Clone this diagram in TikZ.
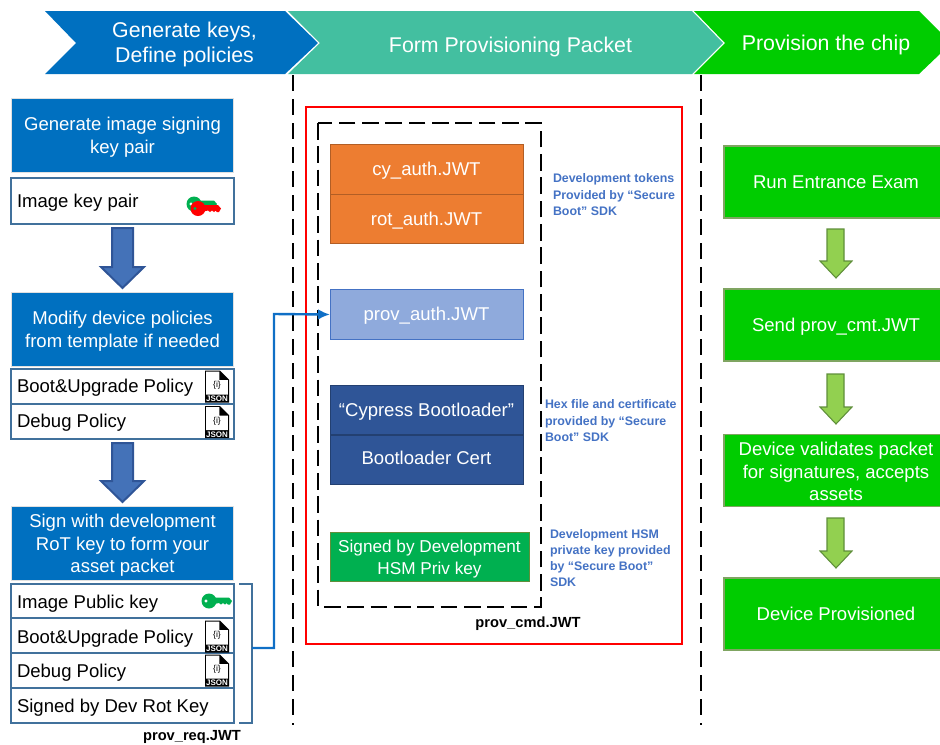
\documentclass[tikz,border=0pt]{standalone}
\usepackage{fontspec}
\usetikzlibrary{arrows.meta}
\setmainfont{Liberation Sans}
\definecolor{cblue}{HTML}{0070C0}
\definecolor{cteal}{HTML}{43BFA0}
\definecolor{cgreen}{HTML}{00CC00}
\definecolor{corange}{HTML}{ED7D31}
\definecolor{cpale}{HTML}{8FAADC}
\definecolor{cnavy}{HTML}{2F5597}
\definecolor{chsm}{HTML}{00B050}
\definecolor{cframe}{HTML}{41719C}
\definecolor{cnote}{HTML}{4472C4}
\definecolor{clink}{HTML}{0F6FC6}
\definecolor{clime}{HTML}{92D050}
\definecolor{climeb}{HTML}{5F8F3A}
\definecolor{carrow}{HTML}{4472B8}
\definecolor{carrowb}{HTML}{2F5597}
\definecolor{ckey}{HTML}{00B050}
\tikzset{
  x=0.75pt,y=-0.75pt,
  every node/.style={inner sep=0pt,outer sep=0pt},
  box/.style={align=center,text=white,font=\fontsize{13.9pt}{17pt}\selectfont},
  oneline/.style={text height=12pt,text depth=3pt},
  flowbox/.style={fill=cblue,draw=black!12,line width=0.6pt,minimum width=167pt,minimum height=56pt},
  itembox/.style={draw=cframe,line width=1.5pt,fill=white},
  itemtext/.style={anchor=west,text=black,font=\fontsize{13.9pt}{17pt}\selectfont},
  greenbox/.style={box,fill=cgreen,draw=climeb!80,line width=0.8pt,minimum width=168pt,minimum height=54pt},
  midbox/.style={box,oneline,line width=0.7pt,minimum width=144.75pt,minimum height=37pt},
  notetext/.style={anchor=north west,align=left,text=cnote,font=\fontsize{9.3pt}{12.1pt}\selectfont\bfseries},
  filelabel/.style={text=black,font=\fontsize{11pt}{13pt}\selectfont\bfseries},
  headtext/.style={align=center,text=white,font=\fontsize{16pt}{18.75pt}\selectfont},
  bigarrow/.style={fill=carrow,draw=carrowb,line width=1.5pt},
  limearrow/.style={fill=clime,draw=climeb,line width=0.8pt},
  linedash/.style={draw=black,line width=1.5pt,dash pattern=on 12pt off 6pt},
  framedash/.style={draw=black,line width=1.5pt,dash pattern=on 12.5pt off 5pt},
}
\newcommand{\jsonicon}[2]{%
  \fill[black] (#1,#2) -- (#1+15,#2) -- (#1+24,#2+9) -- (#1+24,#2+32) -- (#1,#2+32) -- cycle;
  \fill[white] (#1+1.2,#2+1.2) -- (#1+14.3,#2+1.2) -- (#1+14.3,#2+9.5) -- (#1+22.8,#2+9.5) -- (#1+22.8,#2+24) -- (#1+1.2,#2+24) -- cycle;
  \node[text=black,font=\fontsize{6.5pt}{7pt}\selectfont] at (#1+12,#2+15) {\{i\}};
  \node[text=white,font=\fontsize{6pt}{7pt}\selectfont\bfseries] at (#1+12,#2+28.3) {JSON};
}
\newcommand{\keyicon}[3]{% x y colour
  \fill[#3,even odd rule] (#1+7,#2) circle[radius=7.5] (#1+4,#2) circle[radius=1.9];
  \fill[#3] (#1+10,#2-3.5) -- (#1+27,#2-3.5) -- (#1+30,#2) -- (#1+28,#2+3.5) -- (#1+26,#2+3.5) -- (#1+24.5,#2+2) -- (#1+23,#2+3.5) -- (#1+21,#2+2) -- (#1+19,#2+3.5) -- (#1+17,#2+2) -- (#1+10,#2+3.5) -- cycle;
}
\begin{document}
\begin{tikzpicture}
\useasboundingbox (0,0) rectangle (940,744);
% header chevrons
\fill[cgreen] (694,11) -- (919,11) -- (941,33) -- (941,53) -- (919,74) -- (694,74) -- (725,43) -- cycle;
\fill[cteal] (288,11) -- (692,11) -- (723,43) -- (692,74) -- (288,74) -- (320,43) -- cycle;
\fill[cblue] (45,11) -- (285,11) -- (318,43) -- (285,74) -- (45,74) -- (76,43) -- cycle;
\node[headtext] (h1) at (184.5,44) {Generate keys,\\Define policies};
\node[headtext] (h2) at (510.5,46.5) {Form Provisioning Packet};
\node[headtext] (h3) at (826,45) {Provision the chip};
% dashed column rules
\coordinate (r1a) at (293,75); \coordinate (r1b) at (293,725);
\coordinate (r2a) at (701,75); \coordinate (r2b) at (701,725);
\draw[linedash] (r1a) -- (r1b);
\draw[linedash] (r2a) -- (r2b);
% frames
\draw[red,line width=1.5pt] (306,107) rectangle (682,644);
\draw[framedash] (318,123) rectangle (541,607);
% left column
\node[flowbox] (b1) at (122.5,135.5) {};
\node[box] (b1t) at ([yshift=-1.5pt]b1.center) {Generate image signing\\key pair};
\draw[itembox] (11,178) rectangle (234,224);
\node[itemtext] (t1) at (17,203) {Image key pair};
\keyicon{187}{204}{ckey}
\keyicon{191}{208.5}{red}
\draw[bigarrow] (112,228) -- (133,228) -- (133,267) -- (144,267) -- (122.5,288) -- (101,267) -- (112,267) -- cycle;
\node[flowbox] (b2) at (122.5,329.5) {};
\node[box] (b2t) at ([yshift=-1.5pt]b2.center) {Modify device policies\\from template if needed};
\draw[itembox] (11,369) rectangle (234,404);
\draw[itembox] (11,404) rectangle (234,439);
\node[itemtext] (t2) at (17,388) {Boot\&Upgrade Policy};
\node[itemtext] (t3) at (17,423) {Debug Policy};
\jsonicon{205}{370.5}
\jsonicon{205}{406}
\draw[bigarrow] (112,443) -- (133,443) -- (133,481) -- (144,481) -- (122.5,502) -- (101,481) -- (112,481) -- cycle;
\node[flowbox] (b3) at (122.5,543.5) {};
\node[box] (b3t) at ([yshift=-1.5pt]b3.center) {Sign with development\\RoT key to form your\\asset packet};
\draw[itembox] (11,584) rectangle (234,618);
\draw[itembox] (11,618) rectangle (234,653);
\draw[itembox] (11,653) rectangle (234,688);
\draw[itembox] (11,688) rectangle (234,723);
\node[itemtext] (t4) at (17,604) {Image Public key};
\node[itemtext] (t5) at (17,639) {Boot\&Upgrade Policy};
\node[itemtext] (t6) at (17,673) {Debug Policy};
\node[itemtext] (t7) at (17,708) {Signed by Dev Rot Key};
\keyicon{202}{601}{ckey}
\jsonicon{205}{620.5}
\jsonicon{205}{654.5}
\draw[cframe,line width=1.5pt] (239,584) -- (252,584) -- (252,723) -- (239,723);
\node[filelabel,anchor=base] (req) at (192,740) {prov\_req.JWT};
% middle column
\node[midbox,fill=corange,draw=corange!75!black] (c1) at (426.5,169.5) {cy\_auth.JWT};
\node[midbox,fill=corange,draw=corange!75!black] (c2) at (426.5,219) {rot\_auth.JWT};
\node[midbox,fill=cpale,draw=cnote] (p) at (426.5,314.5) {prov\_auth.JWT};
\node[midbox,fill=cnavy,draw=cnavy!75!black] (d1) at (426.5,410) {“Cypress Bootloader”};
\node[midbox,fill=cnavy,draw=cnavy!75!black,text height=10pt,text depth=4pt] (d2) at (426.5,460) {Bootloader Cert};
\node[fill=chsm,draw=climeb,line width=0.7pt,minimum width=149.25pt,minimum height=37pt] (s) at (429.5,557) {};
\node[box,font=\fontsize{12.9pt}{16.5pt}\selectfont] (st) at ([yshift=-1.5pt]s.center) {Signed by Development\\HSM Priv key};
\node[notetext] (n1) at (553,174) {Development tokens\\Provided by “Secure\\Boot” SDK};
\node[notetext] (n2) at (545,400) {Hex file and certificate\\provided by “Secure\\Boot” SDK};
\node[notetext] (n3) at (550,529.5) {Development HSM\\private key provided\\by “Secure Boot”\\SDK};
\node[filelabel] (cmd) at (528,624) {prov\_cmd.JWT};
% connector
\coordinate (brk) at (252,648);
\draw[clink,line width=1.8pt,-{Latex[length=9pt,width=8pt]}] (brk) -| (274,314) -- (p.west);
% right column
\node[greenbox,oneline] (g1) at (836,182) {Run Entrance Exam};
\node[greenbox,oneline] (g2) at (836,325) {Send prov\_cmt.JWT};
\node[greenbox] (g3) at (836,470.5) {};
\node[box] (g3t) at ([yshift=-0.75pt]g3.center) {Device validates packet\\for signatures, accepts\\assets};
\node[greenbox,oneline] (g4) at (836,614) {Device Provisioned};
\draw[limearrow] (827,229) -- (844,229) -- (844,261) -- (852,261) -- (836,278) -- (820,261) -- (827,261) -- cycle;
\draw[limearrow] (827,374) -- (844,374) -- (844,407) -- (852,407) -- (836,424) -- (820,407) -- (827,407) -- cycle;
\draw[limearrow] (827,518) -- (844,518) -- (844,551) -- (852,551) -- (836,568) -- (820,551) -- (827,551) -- cycle;
\end{tikzpicture}
\end{document}
